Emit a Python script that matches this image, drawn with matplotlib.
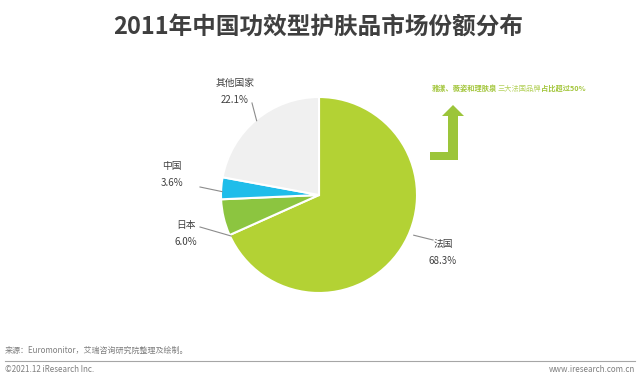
import numpy as np
import matplotlib
matplotlib.use("Agg")
import matplotlib.pyplot as plt
from matplotlib.patches import Polygon

plt.rcParams['font.family'] = ['Noto Sans CJK SC', 'DejaVu Sans']

# data, clockwise from 12 o'clock
labels = ['法国', '日本', '中国', '其他国家']
shares = [68.3, 6.0, 3.6, 22.1]
colors = ['#B3D234', '#8CC540', '#1FBDEA', '#F0F0F0']

title = '2011年中国功效型护肤品市场份额分布'
note_parts = [('雅漾、薇姿和理肤泉', 'bold', '#A3C63C'),
              ('三大法国品牌', 'normal', '#B4D15A'),
              ('占比超过50%', 'bold', '#A3C63C')]
source = '来源：Euromonitor，艾瑞咨询研究院整理及绘制。'
copyright_txt = '©2021.12 iResearch Inc.'
site = 'www.iresearch.com.cn'

W, H = 640, 380
cx, cy, R = 319, 195, 98

fig = plt.figure(figsize=(6.4, 3.8), dpi=100)
fig.patch.set_facecolor('white')

# pie axes placed in pixel units
pax = fig.add_axes([(cx - R) / W, (H - cy - R) / H, 2 * R / W, 2 * R / H])
pax.pie(shares, colors=colors, startangle=90, counterclock=False,
        radius=1, wedgeprops=dict(edgecolor='white', linewidth=1.5))
pax.set_xlim(-1, 1)
pax.set_ylim(-1, 1)
pax.axis('off')

# overlay axes in pixel coords (y downward)
ax = fig.add_axes([0, 0, 1, 1], zorder=5)
ax.set_xlim(0, W)
ax.set_ylim(H, 0)
ax.axis('off')
ax.patch.set_alpha(0)

ax.text(318, 27, title, ha='center', va='center', fontsize=17,
        fontweight='bold', color='#3F3F3F')

# labels with leader lines (rim angle in deg clockwise from top, radius factor)
label_pos = [(443, 244), (186, 225), (172, 166), (235, 83)]
line_start = [(113, 1.05), (245, 0.99), (272, 0.99), (320, 0.99)]
line_end = [(433, 240), (200, 227), (200, 187), (252, 103)]
for i, lab in enumerate(labels):
    a = np.deg2rad(line_start[i][0])
    ex = cx + R * line_start[i][1] * np.sin(a)
    ey = cy - R * line_start[i][1] * np.cos(a)
    lx, ly = label_pos[i]
    ax.plot([ex, line_end[i][0]], [ey, line_end[i][1]], color='#8C8C8C', lw=0.8)
    ax.text(lx, ly, lab, ha='center', va='center', fontsize=7, color='#404040')
    ax.text(lx, ly + 17, f'{shares[i]:.1f}%', ha='center', va='center', fontsize=7, color='#404040')

# green note, pieces chained one after another on a shared baseline
prev = None
for txt, wt, col in note_parts:
    if prev is None:
        prev = ax.text(432, 91, txt, ha='left', va='baseline', fontsize=5.2,
                       fontweight=wt, color=col)
    else:
        prev = ax.annotate(txt, xy=(1, 91), xycoords=(prev, 'data'), ha='left',
                           va='baseline', fontsize=5.2, fontweight=wt, color=col)

# L-shaped up arrow
arrow = [(430, 152), (448, 152), (448, 116), (442, 116), (453, 105), (464, 116),
         (458, 116), (458, 160), (430, 160)]
ax.add_patch(Polygon(arrow, closed=True, facecolor='#9CC53A', edgecolor='none'))

# footer
ax.text(5, 350, source, ha='left', va='center', fontsize=5.8, color='#7F7F7F')
ax.plot([5, 635], [361, 361], color='#A6A6A6', lw=0.8)
ax.text(5, 370, copyright_txt, ha='left', va='center', fontsize=5.8, color='#7F7F7F')
ax.text(635, 370, site, ha='right', va='center', fontsize=5.8, color='#7F7F7F')

fig.savefig('out.png', dpi=100)
